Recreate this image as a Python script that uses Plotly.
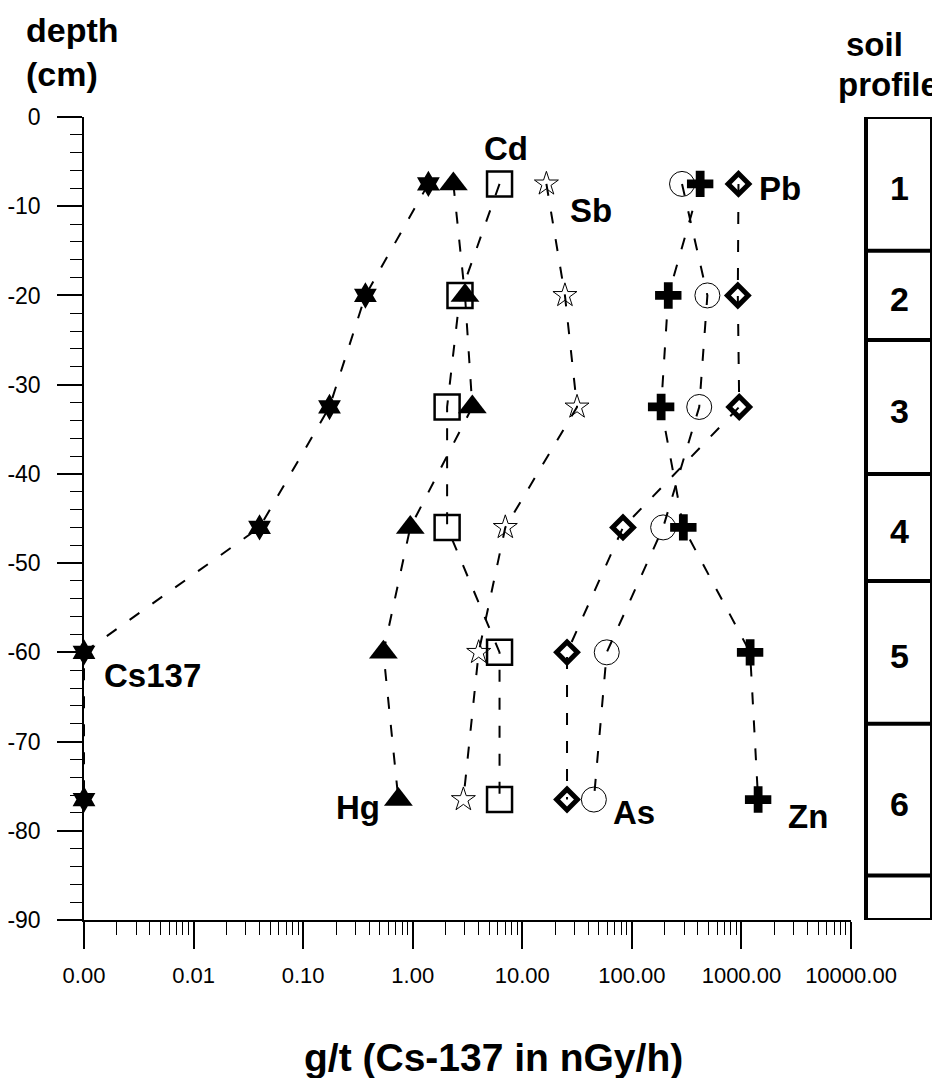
import math
import plotly.graph_objects as go

# ---------------- data ----------------
depths = [-7.5, -20, -32.5, -46, -60, -76.5]          # sample depth (cm), horizon midpoints
cs137 = [1.39, 0.37, 0.174, 0.04, 0.001, 0.001]         # nGy/h
hg = [2.35, 3.0, 3.5, 0.95, 0.54, 0.74]
cd = [6.2, 2.7, 2.06, 2.06, 6.2, 6.2]
sb = [16.6, 24.5, 31.6, 7.0, 4.0, 2.9]
zn = [420, 215, 185, 295, 1200, 1420]
as_vals = [287, 489, 412, 193, 59, 45]
pb = [940, 927, 955, 83, 25.6, 25.6]

horizon_bounds = [0, -15, -25, -40, -52, -68, -85, -90]
horizon_labels = ["1", "2", "3", "4", "5", "6"]

x_tickvals = [0.001, 0.01, 0.1, 1, 10, 100, 1000, 10000]
x_ticktext = ["0.00", "0.01", "0.10", "1.00", "10.00", "100.00", "1000.00", "10000.00"]
y_tickvals = [0, -10, -20, -30, -40, -50, -60, -70, -80, -90]
y_ticktext = ["0", "-10", "-20", "-30", "-40", "-50", "-60", "-70", "-80", "-90"]

FONT = "Arial, Liberation Sans, sans-serif"

# page offset of the figure (body margin)
OFF = 8
L, T, R, B = 84 - OFF, 117 - OFF, 6, 158
W, H = 940 - OFF, 1078 - OFF
PW, PH = W - L - R, H - T - B


def px_x(px):  # page pixel -> paper x
    return (px - OFF - L) / PW


def px_y(py):  # page pixel -> paper y
    return 1 - (py - OFF - T) / PH


# (name, values, symbol, size, marker line width, label, label xshift, label yshift, anchor index)
series = [
    ("Cs137", cs137, "hexagram", 20, 0, "Cs137", 68, -23, 4),
    ("Hg", hg, "triangle-up", 25, 0, "Hg", -40, -8, 5),
    ("Cd", cd, "square-open", 25, 2.5, "Cd", 6, 35, 0),
    ("Sb", sb, "star-open", 18, 1, "Sb", 45, -27, 0),
    ("Zn", zn, "cross", 22, 0, "Zn", 50, -17, 5),
    ("As", as_vals, "circle-open", 25, 1, "As", 40, -13, 5),
    ("Pb", pb, "diamond-open", 16, 5, "Pb", 42, -5, 0),
]

fig = go.Figure()
annotations = []
for name, vals, sym, size, mlw, label, xs, ys, idx in series:
    fig.add_trace(go.Scatter(
        x=vals, y=depths, mode="lines+markers", name=name,
        line=dict(color="black", width=2, dash="12px,16px"),
        marker=dict(symbol=sym, size=size, color="black",
                    line=dict(color="black", width=mlw)),
        cliponaxis=False, showlegend=False,
    ))
    annotations.append(dict(
        x=math.log10(vals[idx]), y=depths[idx], xref="x", yref="y",
        text="<b>%s</b>" % label, showarrow=False, xshift=xs, yshift=ys,
        xanchor="center", yanchor="middle",
        font=dict(family=FONT, size=33, color="black"),
    ))

# soil profile column (paper x, data y)
X0, X1 = px_x(866), px_x(932)
shapes = [dict(type="rect", xref="paper", yref="y", x0=X0, x1=X1,
               y0=horizon_bounds[-1], y1=horizon_bounds[0],
               line=dict(color="black", width=4))]
for b in horizon_bounds[1:-1]:
    shapes.append(dict(type="line", xref="paper", yref="y", x0=X0, x1=X1,
                       y0=b, y1=b, line=dict(color="black", width=4)))
for i, lab in enumerate(horizon_labels):
    mid = (horizon_bounds[i] + horizon_bounds[i + 1]) / 2
    annotations.append(dict(x=(X0 + X1) / 2, y=mid, xref="paper", yref="y",
                            text="<b>%s</b>" % lab, showarrow=False, yshift=-4,
                            xanchor="center", yanchor="middle",
                            font=dict(family=FONT, size=34, color="black")))

# titles
annotations += [
    dict(x=px_x(24), y=px_y(9), xref="paper", yref="paper", xanchor="left", yanchor="top",
         text="<b>depth<br>(cm)</b>", align="left", showarrow=False,
         font=dict(family=FONT, size=34, color="black")),
    dict(x=px_x(874), y=px_y(44), xref="paper", yref="paper",
         xanchor="center", yanchor="middle",
         text="<b>soil</b>", showarrow=False,
         font=dict(family=FONT, size=33, color="black")),
    dict(x=px_x(888), y=px_y(84), xref="paper", yref="paper",
         xanchor="center", yanchor="middle",
         text="<b>profile</b>", showarrow=False,
         font=dict(family=FONT, size=33, color="black")),
    dict(x=px_x(493), y=px_y(1057), xref="paper", yref="paper",
         xanchor="center", yanchor="middle",
         text="<b>g/t (Cs-137 in nGy/h)</b>", showarrow=False,
         font=dict(family=FONT, size=39, color="black")),
]

minor_x = [m * 10.0 ** e for e in range(-3, 4) for m in range(2, 10)]

fig.update_layout(
    width=W, height=H,
    margin=dict(l=L, r=R, t=T, b=B, autoexpand=False),
    paper_bgcolor="white", plot_bgcolor="white",
    showlegend=False,
    font=dict(family=FONT, color="black"),
    xaxis=dict(type="log", range=[-3, 4], domain=[0, px_x(851)], automargin=False,
               tickmode="array", tickvals=x_tickvals, ticktext=x_ticktext,
               ticks="outside", ticklen=27, tickwidth=1.5, tickcolor="black",
               showline=True, linecolor="black", linewidth=1.5,
               showgrid=False, zeroline=False, ticklabelstandoff=8,
               tickfont=dict(family=FONT, size=22, color="black"),
               minor=dict(tickvals=minor_x, ticks="outside", ticklen=13,
                          tickwidth=1.2, tickcolor="black", showgrid=False)),
    yaxis=dict(range=[-90, 0], tickmode="array", tickvals=y_tickvals, ticktext=y_ticktext,
               automargin=False,
               ticks="outside", ticklen=25, tickwidth=1.5, tickcolor="black",
               showline=True, linecolor="black", linewidth=1.5,
               showgrid=False, zeroline=False, ticklabelstandoff=12,
               tickfont=dict(family=FONT, size=23, color="black"),
               minor=dict(dtick=2, tick0=0, ticks="outside", ticklen=12,
                          tickwidth=1.2, tickcolor="black", showgrid=False)),
    shapes=shapes,
    annotations=annotations,
)

fig.write_html("out.html")
